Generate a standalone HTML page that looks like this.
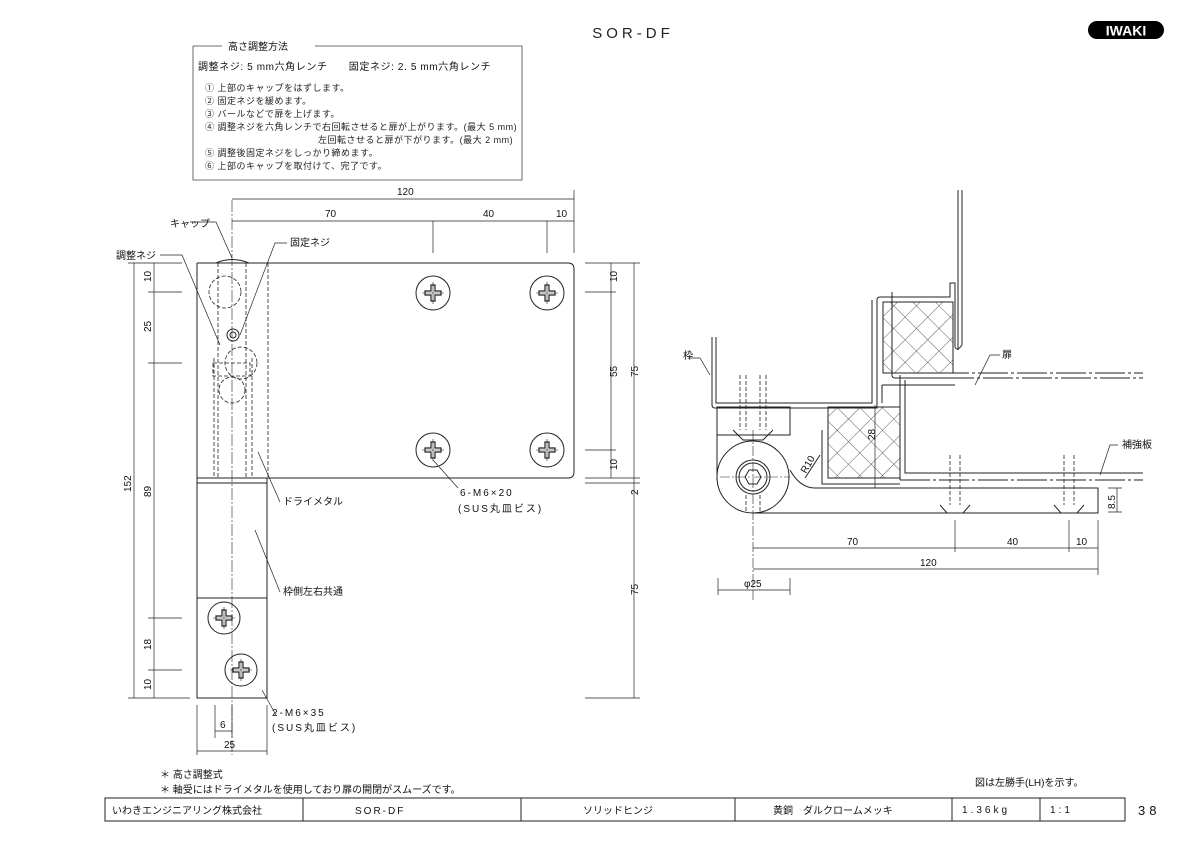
<!DOCTYPE html>
<html><head><meta charset="utf-8"><style>
html,body{margin:0;padding:0;background:#fff;}
svg{display:block;font-family:"Liberation Sans","Noto Sans CJK JP",sans-serif;}
.t{font-size:10px;fill:#111}
</style></head><body>
<svg width="1200" height="848" viewBox="0 0 1200 848" xmlns="http://www.w3.org/2000/svg">
<defs>
<pattern id="hatch" width="16" height="16" patternUnits="userSpaceOnUse" patternTransform="rotate(45)">
<path d="M0 0H16M0 0V16" stroke="#333" stroke-width="0.8"/>
</pattern>
<g id="ph">
<path d="M-2 -8H2V-2H8V2H2V8H-2V2H-8V-2H-2Z" fill="none" stroke="#222" stroke-width="1.2"/>
<path d="M-11 0H11M0 -11V11" stroke="#222" stroke-width="0.6"/>
</g>
</defs>
<text x="633" y="38" font-size="15" text-anchor="middle" letter-spacing="4" fill="#222">SOR-DF</text>
<rect x="1088" y="21" width="76" height="18" rx="9" fill="#000"/>
<text x="1126" y="35.5" font-size="14" font-weight="bold" text-anchor="middle" fill="#fff">IWAKI</text>

<!-- text box -->
<path d="M193 46H222M315 46H522V180H193V46" stroke="#444" fill="none" stroke-width="0.8"/>
<text x="228" y="50" class="t" font-size="11">高さ調整方法</text>
<text x="198" y="70" class="t" font-size="11" letter-spacing="0.6">調整ネジ: 5 mm六角レンチ　　固定ネジ: 2. 5 mm六角レンチ</text>
<g font-size="9" fill="#222" letter-spacing="0.5">
<text x="205" y="91">① 上部のキャップをはずします。</text>
<text x="205" y="104">② 固定ネジを緩めます。</text>
<text x="205" y="117">③ バールなどで扉を上げます。</text>
<text x="205" y="130">④ 調整ネジを六角レンチで右回転させると扉が上がります。(最大 5 mm)</text>
<text x="318" y="143">左回転させると扉が下がります。(最大 2 mm)</text>
<text x="205" y="156">⑤ 調整後固定ネジをしっかり締めます。</text>
<text x="205" y="169">⑥ 上部のキャップを取付けて、完了です。</text>
</g>

<!-- LEFT VIEW -->
<g stroke="#222" fill="none" stroke-width="1">
<path d="M197 263H568Q574 263 574 269V472Q574 478 568 478H267"/>
<path d="M197 263V698H267V478"/>
<path d="M197 478H267M197 483H267M197 598H267"/>
<path d="M216 263Q232 256 249 263" />
<g stroke-dasharray="4 2" stroke-width="0.8">
<path d="M218 263V478M246 263V478M214 358V478M252 358V478M268 263V478"/>
<circle cx="225" cy="292" r="16"/><circle cx="241" cy="363" r="16"/><circle cx="232" cy="390" r="13"/>
<path d="M213 363H250V376H213Z"/>
</g>
<circle cx="233" cy="335" r="6"/><circle cx="233" cy="335" r="3"/>
<path d="M232 200V755" stroke-dasharray="12 2 2 2" stroke-width="0.6"/>
<circle cx="433" cy="293" r="17"/><circle cx="547" cy="293" r="17"/>
<circle cx="433" cy="450" r="17"/><circle cx="547" cy="450" r="17"/>
<circle cx="224" cy="618" r="16"/><circle cx="241" cy="670" r="16"/>
<g stroke-width="0.7">
<path d="M232 199H574M232 221H574M574 190V253M433 221V253M547 221V253"/>
<path d="M134 263V698M154 263V698M128 263H182M148 292H182M148 363H182M148 618H182M148 670H182M128 698H190"/>
<path d="M611 263V478M634 263V698M585 263H640M585 292H616M585 450H616M585 478H640M585 483H640M585 698H640"/>
<path d="M197 705V755M267 705V755M215 705V738M232 705V738M215 731H232M197 751H267"/>
<path d="M190 222H216L232 258M160 255H182L220 345M287 243H275L240 335M280 502L258 452M280 592L255 530M276 715L262 690M458 488L433 460"/>
</g>
</g>
<use href="#ph" x="433" y="293"/><use href="#ph" x="547" y="293"/>
<use href="#ph" x="433" y="450"/><use href="#ph" x="547" y="450"/>
<use href="#ph" x="224" y="618"/><use href="#ph" x="241" y="670"/>
<g class="t" font-size="9">
<text x="397" y="195">120</text>
<text x="325" y="217">70</text><text x="483" y="217">40</text><text x="556" y="217">10</text>
<text x="170" y="227" font-size="10">キャップ</text>
<text x="116" y="259" font-size="10">調整ネジ</text>
<text x="290" y="246" font-size="10">固定ネジ</text>
<text x="283" y="505" font-size="10">ドライメタル</text>
<text x="283" y="595" font-size="10">枠側左右共通</text>
<text x="460" y="496" font-size="10" letter-spacing="2">6-M6×20</text>
<text x="458" y="512" font-size="10" letter-spacing="2">(SUS丸皿ビス)</text>
<text x="272" y="716" font-size="10" letter-spacing="2">2-M6×35</text>
<text x="272" y="731" font-size="10" letter-spacing="2">(SUS丸皿ビス)</text>
<text x="220" y="728">6</text><text x="224" y="748">25</text>
<g transform="rotate(-90)">
<text x="-492" y="131">152</text>
<text x="-282" y="151">10</text><text x="-332" y="151">25</text><text x="-497" y="151">89</text>
<text x="-650" y="151">18</text><text x="-690" y="151">10</text>
<text x="-282" y="617">10</text><text x="-377" y="617">55</text><text x="-470" y="617">10</text>
<text x="-377" y="638">75</text><text x="-495" y="638">2</text><text x="-595" y="638">75</text>
</g>
</g>

<!-- RIGHT VIEW -->
<g stroke="#222" fill="none" stroke-width="1">
<rect x="883" y="302" width="70" height="71" fill="url(#hatch)"/>
<rect x="828" y="407" width="72" height="71" fill="url(#hatch)"/>
<path d="M712 337V405Q712 408 715 408H877V300Q877 297 880 297H950V283H955V347M716 337V403H872V300"/>
<path d="M958 190V350M962 190V345M955 347Q957 352 962 345"/>
<path d="M892 292V375Q892 378 895 378H958"/>
<path d="M882 385V403M882 385H955"/>
<path d="M900 373H1143M905 378H1143" stroke-dasharray="30 3 3 3"/>
<path d="M900 375V480M905 380V473H1143" />
<path d="M900 480H1143" stroke-dasharray="30 3 3 3"/>
<path d="M822 430V484H900"/>
<path d="M717 407H790V435H717ZM717 407V480"/>
<circle cx="753" cy="477" r="36"/>
<path d="M753 513H1098V488H815Q800 488 790 470"/>
<circle cx="753" cy="477" r="17"/><circle cx="753" cy="477" r="14"/>
<path d="M745 477L749 470H757L761 477L757 484H749Z"/>
<g stroke-dasharray="4 2" stroke-width="0.8">
<path d="M740 375V430M746 375V430M760 375V430M766 375V430M746 495V513M760 495V513"/>
<path d="M950 455V505M960 455V505M1064 455V505M1074 455V505"/>
</g>
<path d="M733 430L743 440H763L773 430M940 505L947 513H963L970 505M1054 505L1061 513H1077L1084 505"/>
<path d="M720 477H790M753 430V600" stroke-dasharray="10 2 2 2" stroke-width="0.6"/>
<path d="M805 478L820 455"/>
<path d="M875 405V488" stroke-width="0.7"/>
<g stroke-width="0.7">
<path d="M753 548H1098M753 569H1098M1098 520V575M955 520V552M1069 520V552"/>
<path d="M718 590H790M718 578V595M790 578V595"/>
<path d="M1117 488V512M1108 488H1122M1108 512H1122"/>
<path d="M688 358H700L710 375M1000 355H990L975 385M1118 445H1110L1100 475"/>
</g>
</g>
<g class="t" font-size="9">
<text x="847" y="545">70</text><text x="1007" y="545">40</text><text x="1076" y="545">10</text>
<text x="920" y="566">120</text><text x="744" y="587">φ25</text>
<text x="683" y="359" font-size="10">枠</text>
<text x="1002" y="358" font-size="10">扉</text>
<text x="1122" y="448" font-size="10">補強板</text>
<text transform="translate(1115 509) rotate(-90)">8.5</text>
<text transform="translate(875 440) rotate(-90)">28</text>
<text transform="translate(806 474) rotate(-60)">R10</text>
</g>

<g font-size="10" fill="#111">
<text x="160" y="778">＊ 高さ調整式</text>
<text x="160" y="793">＊ 軸受にはドライメタルを使用しており扉の開閉がスムーズです。</text>
<text x="975" y="786">図は左勝手(LH)を示す。</text>
</g>
<g stroke="#222" fill="none" stroke-width="1">
<path d="M105 798H1125V821H105Z"/>
<path d="M303 798V821M521 798V821M735 798V821M952 798V821M1040 798V821"/>
</g>
<g font-size="10" fill="#111">
<text x="112" y="814">いわきエンジニアリング株式会社</text>
<text x="355" y="814" letter-spacing="2">SOR-DF</text>
<text x="583" y="814">ソリッドヒンジ</text>
<text x="773" y="814">黄銅　ダルクロームメッキ</text>
<text x="962" y="813" letter-spacing="3">1.36kg</text>
<text x="1050" y="813" letter-spacing="3">1:1</text>
<text x="1138" y="815" font-size="13" letter-spacing="4">38</text>
</g>
</svg>
</body></html>
